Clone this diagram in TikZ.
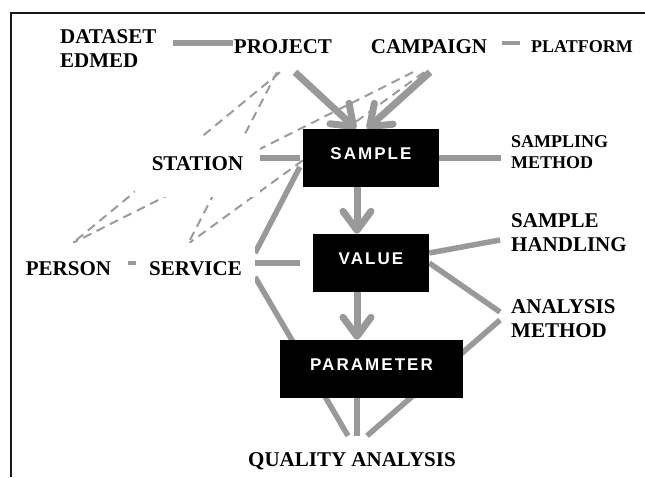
\documentclass[tikz,border=0pt]{standalone}
\usepackage{fontspec}
\setmainfont{Liberation Serif}
\newfontfamily\boxfont{Liberation Sans Bold}[LetterSpace=12]
\usetikzlibrary{arrows.meta}
\pgfdeclarelayer{background}
\pgfsetlayers{background,main}
\definecolor{linkgray}{RGB}{153,153,153}
\definecolor{dashgray}{RGB}{155,155,155}

\tikzset{
  lbl/.style={font=\fontsize{21}{24}\selectfont\bfseries, inner sep=0pt,
    text height=14pt, text depth=0pt},
  mlbl/.style={font=\fontsize{21}{24}\selectfont\bfseries, inner sep=0pt,
    anchor=base west},
  smallmlbl/.style={mlbl, font=\fontsize{18}{21}\selectfont\bfseries},
  cover/.style={fill=white},
  entity/.style={fill=black, text=white,
    font=\boxfont\fontsize{17}{20}\selectfont,
    inner sep=0pt, minimum height=58pt, text height=12pt, text depth=10pt},
  link/.style={draw=linkgray, line width=5.5pt},
  thinlink/.style={draw=linkgray, line width=4pt},
  optlink/.style={draw=dashgray, line width=2pt, dash pattern=on 9pt off 6pt},
  flow/.style={draw=linkgray, line width=7pt,
    -{Straight Barb[length=19pt,width=28pt,round]}},
}

\begin{document}
\begin{tikzpicture}[x=1pt, y=-1pt]
\useasboundingbox (0,0) rectangle (645,477);

% labels
\node[mlbl] (dataset) at (60,43)
  {\begin{tabular}[t]{@{}l@{}}DATASET\\EDMED\end{tabular}};
\node[lbl, anchor=base, inner xsep=1pt, inner ysep=19pt] (project) at (283,53) {PROJECT};
\node[lbl, anchor=base, inner xsep=1pt, inner ysep=19pt] (campaign) at (429,53) {CAMPAIGN};
\node[lbl, anchor=base, font=\fontsize{18}{21}\selectfont\bfseries,
      text height=12pt, inner xsep=1pt] (platform) at (582,52) {PLATFORM};
\node[smallmlbl, inner xsep=10pt] (sampling) at (501,147)
  {\begin{tabular}[t]{@{}l@{}}SAMPLING\\METHOD\end{tabular}};
\node[mlbl, inner xsep=11pt] (handling) at (500,227)
  {\begin{tabular}[t]{@{}l@{}}SAMPLE\\HANDLING\end{tabular}};
\node[mlbl, inner xsep=11pt] (analysis) at (500,313)
  {\begin{tabular}[t]{@{}l@{}}ANALYSIS\\METHOD\end{tabular}};
\node[lbl, cover, anchor=base, inner xsep=17pt, inner ysep=19pt, text depth=8pt]
  (station) at (197.5,170) {STATION};
\node[lbl, cover, anchor=base, inner xsep=17pt, inner ysep=18pt]
  (person) at (68.5,275) {PERSON};
\node[lbl, cover, anchor=base, inner xsep=13pt, inner ysep=18pt]
  (service) at (195.5,275) {SERVICE};
\node[lbl, anchor=base, inner xsep=2pt, inner ysep=16pt]
  (quality) at (352,466) {QUALITY ANALYSIS};

% entity boxes
\node[entity, minimum width=136pt] (sample) at (371,158) {SAMPLE};
\node[entity, minimum width=116pt] (value) at (371,263) {VALUE};
\node[entity, minimum width=183pt] (parameter) at (371.5,369) {PARAMETER};

\begin{pgfonlayer}{background}
  % optional (dashed) relations
  \draw[optlink] ([xshift=-3pt]project.south) -- ([xshift=4.5pt]person.north);
  \draw[optlink] ([xshift=-6pt]project.south) -- ([xshift=-7pt]service.north);
  \draw[optlink] ([xshift=-16pt]campaign.south) -- ([xshift=4.5pt]person.north);
  \draw[optlink] ([xshift=-5pt]campaign.south) -- ([xshift=-6pt]service.north);

  % plain relations
  \draw[link] ([xshift=17pt]dataset.base east) -- (project.west |- dataset.base east);
  \draw[thinlink] ([shift={(14pt,3pt)}]campaign.east) -- ([shift={(-10pt,3pt)}]platform.west);
  \draw[link] (sample.west -| station.east) -- ([xshift=-3pt]sample.west);
  \draw[link] (sample.east) -- (sample.east -| sampling.west);
  \draw[link] ([yshift=15pt]service.east) -- ([shift={(-3pt,-9pt)}]sample.west);
  \draw[link] (value.west -| service.east) -- ([xshift=-13pt]value.west);
  \draw[thinlink] ([yshift=5pt]person.east) -- ([yshift=5pt]service.west);
  \draw[link] ([yshift=-9pt]service.east) -- ([xshift=-4pt]quality.north);
  \draw[link] ([yshift=10pt]value.east) -- ([yshift=-13pt]handling.base west);
  \draw[link] (value.east) -- ([yshift=1pt]analysis.base west);
  \draw[link] ([yshift=-7pt]analysis.base west) -- ([xshift=15pt]quality.north);
  \draw[link] ([xshift=-14.5pt]parameter.south) -- ([xshift=5pt]quality.north);

  % main flow
  \draw[flow] ([xshift=12pt]project.south) -- ([xshift=-15pt]sample.north);
  \draw[flow] ([xshift=1pt]campaign.south) -- ([xshift=-4pt]sample.north);
  \draw[flow] ([xshift=-14pt]sample.south) -- ([xshift=-14pt]value.north);
  \draw[flow] ([xshift=-14pt]value.south) -- ([xshift=-14.5pt]parameter.north);
\end{pgfonlayer}

% page frame (top and left rules)
\draw[line width=2pt, black!90] (645,13) -- (11,13) -- (11,477);
\end{tikzpicture}
\end{document}
